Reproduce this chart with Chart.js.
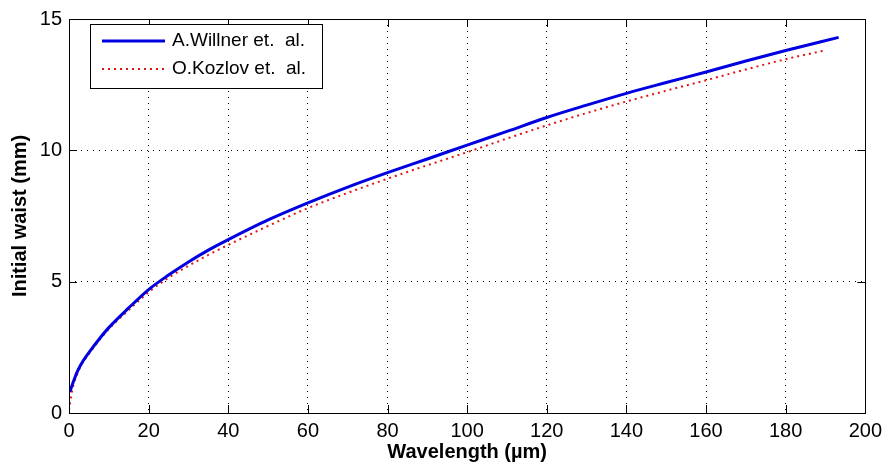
<!DOCTYPE html>
<html>
<head>
<meta charset="utf-8">
<script src="https://cdn.jsdelivr.net/npm/chart.js@4.4.0/dist/chart.umd.min.js"></script>
<style>
html, body { margin: 0; padding: 0; background: #fff; }
#wrap { width: 888px; height: 467px; }
</style>
</head>
<body>
<div id="wrap"><canvas id="myChart"></canvas></div>
<script>
// data
const willnerX = [0.2, 1, 2, 3, 5, 7.5, 10, 15, 20, 25, 30, 35, 40, 50, 60, 70, 80, 90, 100, 110, 120, 130, 140, 150, 160, 170, 180, 193.3];
const willnerY = [0.8, 1.15, 1.55, 1.85, 2.3, 2.8, 3.25, 4.0, 4.7, 5.25, 5.75, 6.2, 6.6, 7.35, 8.0, 8.6, 9.15, 9.67, 10.2, 10.72, 11.25, 11.72, 12.17, 12.58, 12.98, 13.4, 13.8, 14.3];

const kozlovX = [0, 0.5, 1, 2, 3, 5, 7.5, 10, 15, 20, 25, 30, 35, 40, 50, 60, 70, 80, 90, 100, 110, 120, 130, 140, 150, 160, 170, 180, 189.7];
const kozlovY = [0.1, 0.6, 1.0, 1.45, 1.8, 2.25, 2.75, 3.2, 3.92, 4.6, 5.15, 5.6, 6.02, 6.4, 7.12, 7.8, 8.38, 8.92, 9.43, 9.93, 10.45, 10.95, 11.42, 11.86, 12.27, 12.67, 13.08, 13.47, 13.8];

const xTicks = [0, 20, 40, 60, 80, 100, 120, 140, 160, 180, 200];
const yTicks = [0, 5, 10, 15];

const seriesNames = ['A.Willner et.  al.', 'O.Kozlov et.  al.'];

const toPoints = (xs, ys) => xs.map((x, i) => ({ x: x, y: ys[i] }));

const fontFamily = '"Liberation Sans", Arial, sans-serif';

// matlab style box, inward ticks and legend
const matlabBox = {
    id: 'matlabBox',
    afterDraw(chart) {
        const ctx = chart.ctx;
        const a = chart.chartArea;
        const xs = chart.scales.x;
        const ys = chart.scales.y;
        const tl = 8;
        ctx.save();
        ctx.strokeStyle = '#000';
        ctx.lineWidth = 1;
        ctx.setLineDash([]);
        ctx.beginPath();
        xTicks.forEach(v => {
            const px = Math.round(xs.getPixelForValue(v)) + 0.5;
            ctx.moveTo(px, a.bottom); ctx.lineTo(px, a.bottom - tl);
            ctx.moveTo(px, a.top); ctx.lineTo(px, a.top + tl);
        });
        yTicks.forEach(v => {
            const py = Math.round(ys.getPixelForValue(v)) + 0.5;
            ctx.moveTo(a.left, py); ctx.lineTo(a.left + tl, py);
            ctx.moveTo(a.right, py); ctx.lineTo(a.right - tl, py);
        });
        ctx.stroke();
        ctx.strokeRect(Math.round(a.left) + 0.5, Math.round(a.top) + 0.5, Math.round(a.right - a.left), Math.round(a.bottom - a.top));

        // legend
        const lx = 90, ly = 24, lw = 232, lh = 64;
        ctx.fillStyle = '#fff';
        ctx.fillRect(lx, ly, lw, lh);
        ctx.strokeRect(lx + 0.5, ly + 0.5, lw, lh);
        ctx.font = '19px ' + fontFamily;
        ctx.textBaseline = 'middle';
        chart.data.datasets.forEach((ds, i) => {
            const yy = ly + 17 + i * 28;
            ctx.strokeStyle = ds.borderColor;
            ctx.lineWidth = ds.borderWidth;
            ctx.setLineDash(ds.borderDash || []);
            ctx.beginPath();
            ctx.moveTo(102, yy); ctx.lineTo(165, yy);
            ctx.stroke();
            ctx.fillStyle = '#000';
            ctx.fillText(ds.label, 172, yy);
        });
        ctx.restore();
    }
};

const ctx = document.getElementById('myChart');

const myChart = new Chart(ctx, {
    type: 'line',
    data: {
        datasets: [{
            label: seriesNames[0],
            data: toPoints(willnerX, willnerY),
            borderColor: 'rgb(0, 0, 225)',
            borderWidth: 3,
            pointRadius: 0,
            cubicInterpolationMode: 'monotone'
        }, {
            label: seriesNames[1],
            data: toPoints(kozlovX, kozlovY),
            borderColor: 'rgb(225, 20, 20)',
            borderWidth: 2,
            borderDash: [2, 4],
            pointRadius: 0,
            cubicInterpolationMode: 'monotone'
        }]
    },
    options: {
        responsive: true,
        maintainAspectRatio: false,
        animation: false,
        layout: { padding: { left: 0, right: 16, top: 13, bottom: 0 } },
        plugins: {
            legend: { display: false },
            tooltip: { enabled: false }
        },
        scales: {
            x: {
                type: 'linear',
                min: 0,
                max: 200,
                afterBuildTicks: s => { s.ticks = xTicks.map(v => ({ value: v })); },
                afterFit: s => { s.height = 54; },
                grid: { color: '#000', drawTicks: false, lineWidth: 1 },
                border: { display: false, dash: [1, 5] },
                ticks: {
                    color: '#000',
                    padding: 6,
                    maxRotation: 0,
                    font: { family: fontFamily, size: 20 }
                },
                title: {
                    display: true,
                    text: 'Wavelength (µm)',
                    color: '#000',
                    padding: { top: 0, bottom: 3 },
                    font: { family: fontFamily, size: 20, weight: 'bold' }
                }
            },
            y: {
                min: 0,
                max: 15,
                afterBuildTicks: s => { s.ticks = yTicks.map(v => ({ value: v })); },
                afterFit: s => { s.width = 69; },
                grid: { color: '#000', drawTicks: false, lineWidth: 1 },
                border: { display: false, dash: [1, 5] },
                ticks: {
                    color: '#000',
                    padding: 7,
                    font: { family: fontFamily, size: 20 }
                },
                title: {
                    display: true,
                    text: 'Initial waist (mm)',
                    color: '#000',
                    padding: { top: 8, bottom: 0 },
                    font: { family: fontFamily, size: 20, weight: 'bold' }
                }
            }
        }
    },
    plugins: [matlabBox]
});
</script>
</body>
</html>
